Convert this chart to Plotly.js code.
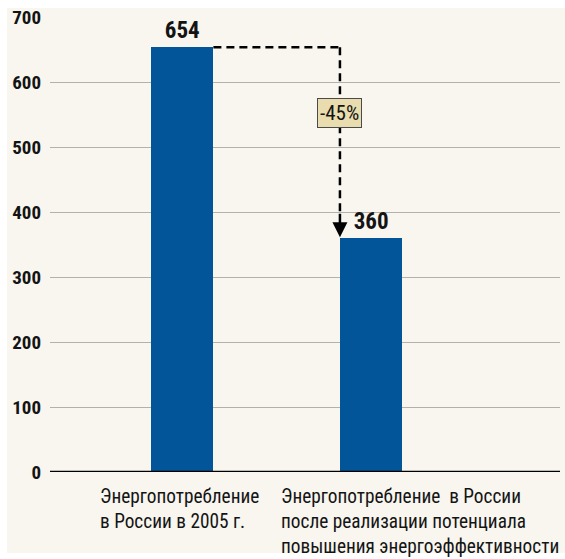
<!DOCTYPE html>
<html><head><meta charset="utf-8">
<script src="https://cdn.plot.ly/plotly-3.0.1.min.js"></script>
<style>
html,body{margin:0;padding:0;background:#ffffff;}
#chart{position:absolute;left:0;top:0;width:565px;height:559px;}
</style></head>
<body><div id="chart"></div>
<script>
const categories = ["2005", "potential"];
const values = [654, 360];
const categoryLabels = [
  "Энергопотребление<br>в России в 2005 г.",
  "Энергопотребление  в России<br>после реализации потенциала<br>повышения энергоэффективности"
];
const changeLabel = "-45%";
const yTicks = [0, 100, 200, 300, 400, 500, 600, 700];

const FONT = "'Roboto Condensed', 'Open Sans', sans-serif";
const BG = "#f8f6ef";
const barWidth = 0.33;
const xIdx = [0, 1];
const bar2Left = xIdx[1] - barWidth / 2;
const bar1Right = xIdx[0] + barWidth / 2;

const trace = {
  type: "bar",
  x: xIdx,
  y: values,
  width: barWidth,
  marker: {color: "#03559a"},
  text: values.map(String),
  textposition: "outside",
  textfont: {family: FONT, size: 23, color: "#141414", weight: "bold"},
  cliponaxis: false,
  hoverinfo: "none"
};

const layout = {
  margin: {l: 50, r: 5, t: 17, b: 87},
  paper_bgcolor: "#ffffff",
  plot_bgcolor: "rgba(0,0,0,0)",
  showlegend: false,
  bargap: 0,
  xaxis: {
    range: [-0.7, 2.0],
    showticklabels: false,
    showgrid: false,
    zeroline: false,
    ticks: "",
    fixedrange: true
  },
  yaxis: {
    range: [0, 700.5],
    tickvals: yTicks,
    ticktext: yTicks.map(String),
    showgrid: true,
    gridcolor: "#b3b1ab",
    gridwidth: 1,
    zeroline: false,
    ticks: "",
    ticklabelstandoff: 8,
    ticklabeloverflow: "allow",
    tickfont: {family: FONT, size: 19, color: "#141414", weight: "bold"},
    showline: false
  },
  shapes: [
    {type: "rect", xref: "paper", yref: "paper", layer: "below",
     x0: -0.0843, x1: 1.0098, y0: -0.178, y1: 1.0198,
     fillcolor: BG, line: {width: 0}},
    {type: "line", xref: "paper", yref: "y", x0: 0, x1: 1, y0: 0, y1: 0,
     line: {color: "#000000", width: 2.5}},
    {type: "line", xref: "x", yref: "y", x0: bar1Right, x1: bar2Left, y0: values[0], y1: values[0],
     line: {color: "#000000", width: 2.5, dash: "8px,5px"}},
    {type: "line", xref: "x", yref: "y", x0: bar2Left, x1: bar2Left, y0: values[0], y1: values[1] + 40,
     line: {color: "#000000", width: 2.5, dash: "8px,5px"}}
  ],
  annotations: [
    {x: bar2Left, y: values[1], xref: "x", yref: "y", axref: "x", ayref: "y",
     ax: bar2Left, ay: values[1] + 40, text: "", showarrow: true,
     arrowhead: 2, arrowsize: 1.2, arrowwidth: 2.5, arrowcolor: "#000000", standoff: 1},
    {x: bar2Left, y: 552, xref: "x", yref: "y", text: changeLabel, showarrow: false,
     font: {family: FONT, size: 21, color: "#141414"},
     bgcolor: "#e9dcae", bordercolor: "#4a4a4a", borderwidth: 1, borderpad: 2},
    {x: xIdx[0], y: 0, xref: "x", yref: "paper", xshift: -84, yshift: -11,
     xanchor: "left", yanchor: "top", align: "left", showarrow: false,
     text: categoryLabels[0], font: {family: FONT, size: 19.3, color: "#141414"}},
    {x: xIdx[1], y: 0, xref: "x", yref: "paper", xshift: -92, yshift: -11,
     xanchor: "left", yanchor: "top", align: "left", showarrow: false,
     text: categoryLabels[1], font: {family: FONT, size: 19.3, color: "#141414"}}
  ]
};

Plotly.newPlot("chart", [trace], layout, {displayModeBar: false, staticPlot: true});
</script></body></html>
